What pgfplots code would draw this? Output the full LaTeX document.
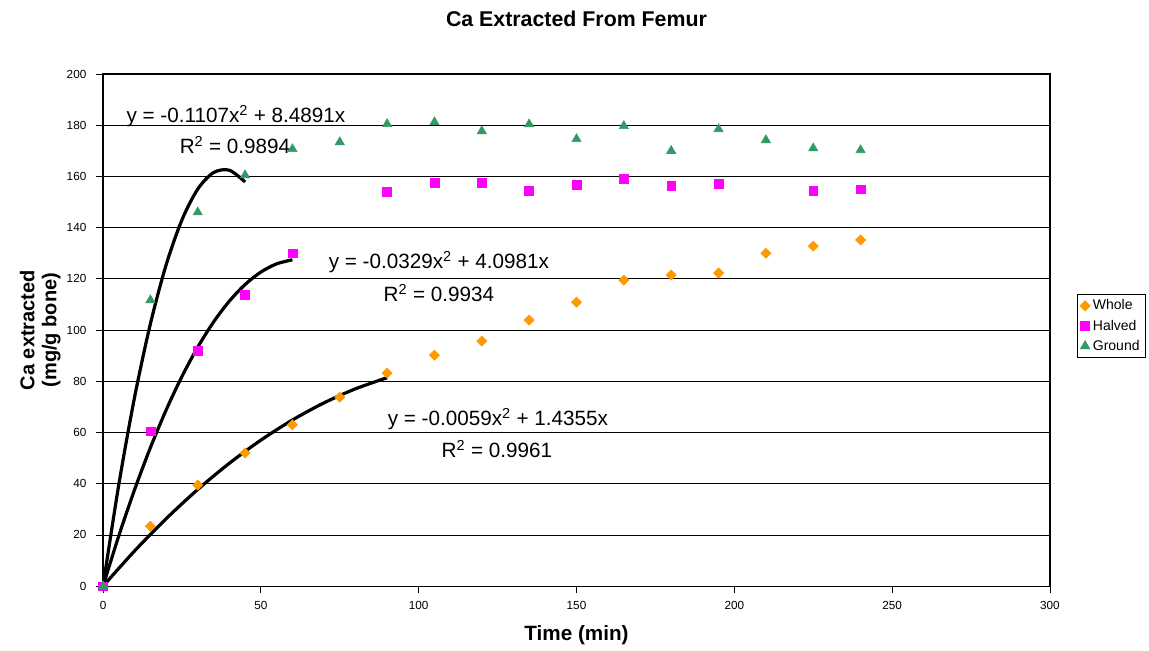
\documentclass[border=0pt]{standalone}
\usepackage{pgfplots}
\pgfplotsset{compat=1.18}
\usepackage{fontspec}
\setmainfont{Liberation Sans}
\definecolor{whole}{HTML}{FF9900}
\definecolor{halved}{HTML}{FF00FF}
\definecolor{ground}{HTML}{339966}
\begin{document}
\begin{tikzpicture}
\begin{axis}[
  name=ax,
  scale only axis,
  width=710pt, height=384pt,
  xmin=0, xmax=300, ymin=0, ymax=200,
  xtick={0,50,...,300}, ytick={0,20,...,200},
  ymajorgrids, major grid style={black, line width=0.6pt},
  axis line style={black, line width=0.9pt},
  tick style={black, line width=0.6pt},
  tick align=outside, major tick length=5pt,
  xtick pos=bottom, ytick pos=left,
  ticklabel style={font=\fontsize{8.8}{10}\selectfont},
  xticklabel style={yshift=-3pt},
  yticklabel style={xshift=-4pt},
  /pgf/number format/assume math mode=true,
  clip=false,
  legend style={at={(1.0285,0.508)}, anchor=west, draw=black, line width=0.6pt,
    font=\fontsize{10.5}{12}\selectfont, inner sep=2pt, row sep=2pt},
  legend cell align=left,
]
\addplot[only marks, mark=square*, mark size=2.7pt, mark options={rotate=45}, color=whole] coordinates {
(0,0) (15,23.4) (30,39.5) (45,52) (60,63) (75,73.8) (90,83.2) (105,90.2) (120,95.7)
(135,103.9) (150,110.9) (165,119.5) (180,121.5) (195,122.3) (210,130) (225,132.8) (240,135.2)};
\addlegendentry{Whole}
\addplot[only marks, mark=square*, mark size=3.3pt, color=halved] coordinates {
(0,0) (15,60.5) (30,91.8) (45,113.7) (60,130) (90,153.9) (105,157.4) (120,157.4)
(135,154.3) (150,156.6) (165,159) (180,156.3) (195,157) (225,154.3) (240,155)};
\addlegendentry{Halved}
\addplot[only marks, mark=triangle*, mark size=4pt, color=ground] coordinates {
(0,0) (15,111.7) (30,146) (45,160.5) (60,170.7) (75,173.4) (90,180.5) (105,181.2) (120,177.7)
(135,180.4) (150,174.6) (165,179.7) (180,170) (195,178.5) (210,174.2) (225,171) (240,170.3)};
\addlegendentry{Ground}
% trend lines
\addplot[forget plot, black, line width=2.4pt, smooth] coordinates {
(0,0) (5,39.68) (10,73.82) (15,102.43) (20,125.50) (25,143.04) (30,155.04) (35,161.51) (40,162.44) (45,157.84)};
\addplot[forget plot, black, line width=2.4pt, smooth] coordinates {
(0,0) (5,19.67) (10,37.69) (15,54.07) (20,68.80) (25,81.89) (30,93.33) (35,103.13) (40,111.28) (45,117.79) (50,122.66) (55,125.87) (60,127.45)};
\addplot[forget plot, black, line width=2.4pt, smooth] coordinates {
(0,0) (10,13.77) (20,26.35) (30,37.76) (40,47.98) (50,57.03) (60,64.89) (70,71.58) (80,77.08) (90,81.41)};
% equations
\node[font=\fontsize{15.5}{18}\selectfont] at (axis cs:42.1,183.6) {y = -0.1107x\textsuperscript{2} + 8.4891x};
\node[font=\fontsize{15.5}{18}\selectfont] at (axis cs:41.8,172.3) {R\textsuperscript{2} = 0.9894};
\node[font=\fontsize{15.5}{18}\selectfont] at (axis cs:106.4,126.6) {y = -0.0329x\textsuperscript{2} + 4.0981x};
\node[font=\fontsize{15.5}{18}\selectfont] at (axis cs:106.4,114.5) {R\textsuperscript{2} = 0.9934};
\node[font=\fontsize{15.5}{18}\selectfont] at (axis cs:125.1,65.2) {y = -0.0059x\textsuperscript{2} + 1.4355x};
\node[font=\fontsize{15.5}{18}\selectfont] at (axis cs:124.8,53.5) {R\textsuperscript{2} = 0.9961};
\end{axis}
\node[font=\bfseries\fontsize{16}{18}\selectfont] at ([yshift=41pt]ax.north) {Ca Extracted From Femur};
\node[font=\bfseries\fontsize{15.5}{18}\selectfont] at ([yshift=-37pt]ax.south) {Time (min)};
\node[font=\bfseries\fontsize{15}{16.5}\selectfont, align=center, rotate=90] at ([xshift=-47pt]ax.west) {Ca extracted\\(mg/g bone)};
\path ([shift={(-77.25pt,-48pt)}]ax.south west) rectangle ([shift={(74.25pt,55.5pt)}]ax.north east);
\end{tikzpicture}
\end{document}
